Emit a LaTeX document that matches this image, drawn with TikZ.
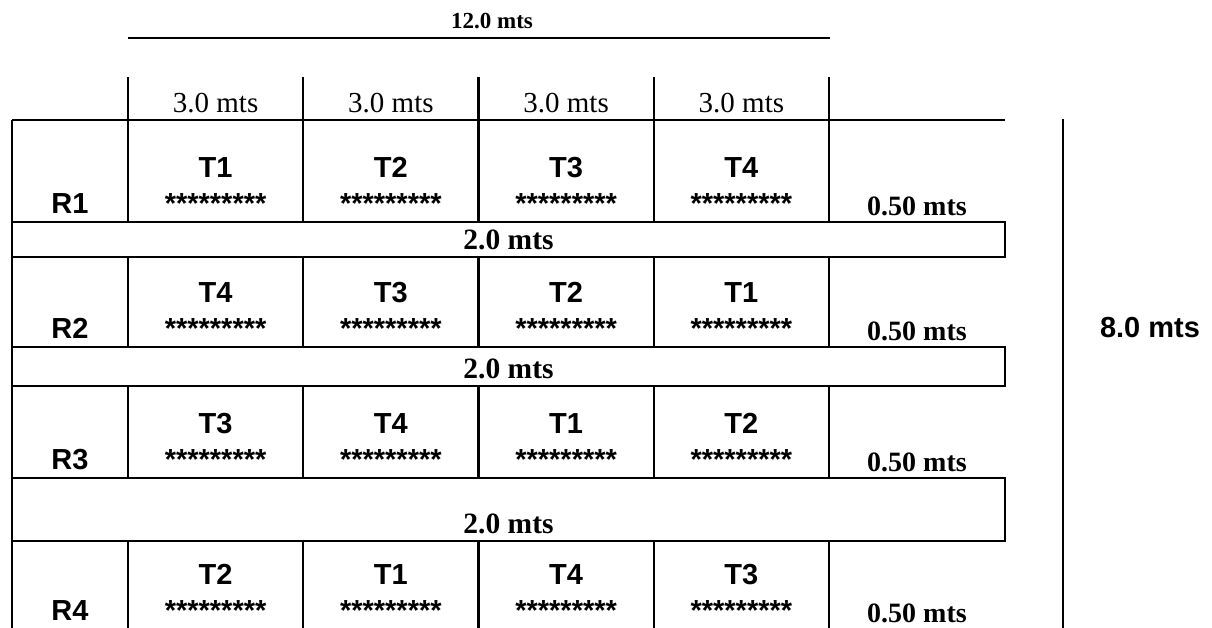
\documentclass[tikz,border=0pt]{standalone}
\usepackage{fontspec}
\setmainfont{Liberation Serif}
\newfontfamily\arialf{Liberation Sans}
\begin{document}
\begin{tikzpicture}[x=1pt,y=-1pt,line width=2.1pt,
  serif/.style={font=\fontsize{29}{32}\selectfont,anchor=base,inner sep=0pt},
  bserif/.style={font=\fontsize{28}{31}\selectfont\bfseries,anchor=base,inner sep=0pt},
  bandlabel/.style={font=\fontsize{29.5}{32}\selectfont\bfseries,anchor=base,inner sep=0pt},
  tserif/.style={font=\fontsize{23}{26}\selectfont\bfseries,anchor=base,inner sep=0pt},
  bsans/.style={font=\arialf\fontsize{29}{32}\selectfont\bfseries,anchor=base,inner sep=0pt},
]
\useasboundingbox (0,0) rectangle (1212,627);
\clip (0,0) rectangle (1212,627);
% title
\node[tserif] (title) at (492,28) {12.0 mts};
\draw (128,38) -- (830,38);
% header
\foreach \x in {128,303.25,478.5,653.75,829} \draw (\x,77) -- (\x,120);
\foreach \x [count=\i] in {215.6,390.9,566.1,741.4}
  \node[serif] (H\i) at (\x,112) {3.0 mts};
% frame
\draw (12,120) -- (1005,120);
\draw (12,120) -- (12,630);
% bands
\foreach \t/\b [count=\i] in {222/257,347/386,478/541} {
  \draw (12,\t) rectangle (1005,\b);
  \node[bandlabel] (B\i) at (508.5,\b-8) {2.0 mts};
}
% rows
\foreach \r/\top/\bot/\ta/\tb/\tc/\td in {1/120/222/1/2/3/4,2/257/347/4/3/2/1,3/386/478/3/4/1/2,4/541/629/2/1/4/3} {
  \node[bsans] (R\r) at (70,\bot-9) {R\r};
  \node[bserif] (M\r) at (917,\bot-7) {0.50 mts};
  \foreach \xl/\xr/\t [count=\c] in {128/303.25/\ta,303.25/478.5/\tb,478.5/653.75/\tc,653.75/829/\td} {
    \draw (\xl,\top) rectangle (\xr,\bot);
    \node[bsans] (T\r\c) at ({(\xl+\xr)/2},\bot-45) {T\t};
    \node[bsans] (S\r\c) at ({(\xl+\xr)/2},\bot-9) {*********};
  }
}
% right dimension
\draw (1063,119) -- (1063,630);
\node[bsans] (height) at (1150,337) {8.0 mts};
\end{tikzpicture}
\end{document}
